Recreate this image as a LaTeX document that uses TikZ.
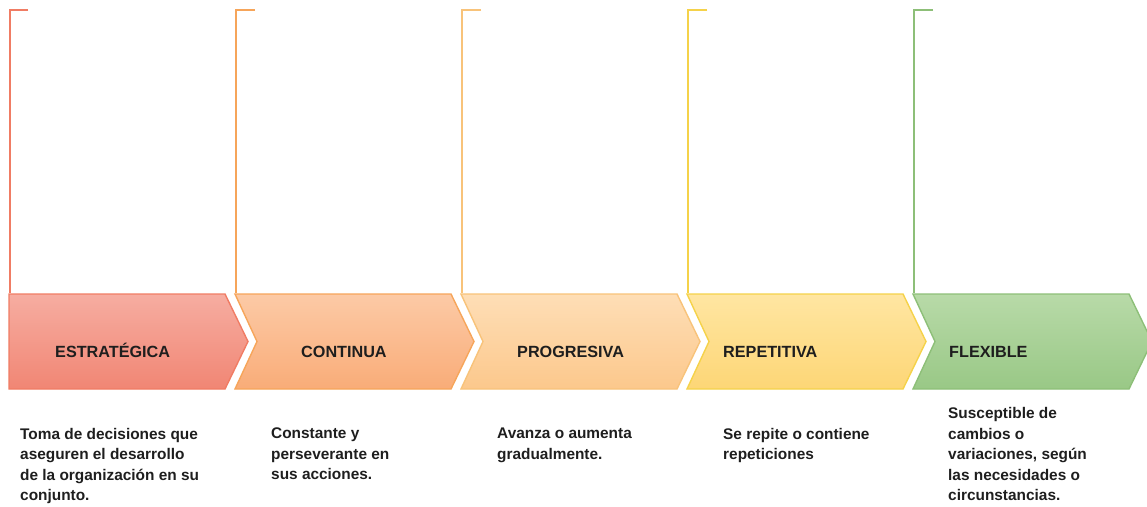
\documentclass[tikz,border=0pt]{standalone}
\usepackage{fontspec}
\setmainfont{Liberation Sans}
\definecolor{b1}{HTML}{F07C64}\definecolor{t1}{HTML}{F6ADA1}\definecolor{d1}{HTML}{F18674}
\definecolor{b2}{HTML}{F6A55A}\definecolor{t2}{HTML}{FCCAA6}\definecolor{d2}{HTML}{F9AC78}
\definecolor{b3}{HTML}{F8C37A}\definecolor{t3}{HTML}{FEDEB6}\definecolor{d3}{HTML}{FCC88C}
\definecolor{b4}{HTML}{F5D24A}\definecolor{t4}{HTML}{FFE6A2}\definecolor{d4}{HTML}{FDD676}
\definecolor{b5}{HTML}{8DBF78}\definecolor{t5}{HTML}{B8DAA8}\definecolor{d5}{HTML}{99C886}
\definecolor{txt}{HTML}{1E1E1E}
\begin{document}
\begin{tikzpicture}[x=1pt,y=-1pt,
  lbl/.style={anchor=base west, inner sep=0, font=\fontsize{16.2}{18}\selectfont\bfseries, text=txt},
  desc/.style={anchor=north west, inner sep=0, align=left, font=\fontsize{15.4}{20.5}\selectfont\bfseries, text=txt},
  brk/.style={line width=2pt},
  chev/.style={line width=1.4pt}]
\useasboundingbox (0,0) rectangle (1147,506);
\clip (0,0) rectangle (1147,506);
% chevrons
\path[chev, draw=b1, top color=t1, bottom color=d1] (9,294) -- (225,294) -- (248,341.5) -- (225,389) -- (9,389) -- cycle;
\path[chev, draw=b2, top color=t2, bottom color=d2] (235,294) -- (451,294) -- (474,341.5) -- (451,389) -- (235,389) -- (257,341.5) -- cycle;
\path[chev, draw=b3, top color=t3, bottom color=d3] (461,294) -- (677,294) -- (700,341.5) -- (677,389) -- (461,389) -- (483,341.5) -- cycle;
\path[chev, draw=b4, top color=t4, bottom color=d4] (687,294) -- (903,294) -- (926,341.5) -- (903,389) -- (687,389) -- (709,341.5) -- cycle;
\path[chev, draw=b5, top color=t5, bottom color=d5] (913,294) -- (1129,294) -- (1152,341.5) -- (1129,389) -- (913,389) -- (935,341.5) -- cycle;
% brackets
\coordinate (k1a) at (28,10);  \coordinate (k1b) at (10,10);  \coordinate (k1c) at (10,293.4);
\coordinate (k2a) at (255,10); \coordinate (k2b) at (236,10); \coordinate (k2c) at (236,293.4);
\coordinate (k3a) at (481,10); \coordinate (k3b) at (462,10); \coordinate (k3c) at (462,293.4);
\coordinate (k4a) at (707,10); \coordinate (k4b) at (688,10); \coordinate (k4c) at (688,293.4);
\coordinate (k5a) at (933,10); \coordinate (k5b) at (914,10); \coordinate (k5c) at (914,293.4);
\draw[brk, draw=b1] (k1a) -- (k1b) -- (k1c);
\draw[brk, draw=b2] (k2a) -- (k2b) -- (k2c);
\draw[brk, draw=b3] (k3a) -- (k3b) -- (k3c);
\draw[brk, draw=b4] (k4a) -- (k4b) -- (k4c);
\draw[brk, draw=b5] (k5a) -- (k5b) -- (k5c);
% labels
\node[lbl] (l1) at (55,357) {ESTRATÉGICA};
\node[lbl] (l2) at (301,357) {CONTINUA};
\node[lbl] (l3) at (517,357) {PROGRESIVA};
\node[lbl] (l4) at (723,357) {REPETITIVA};
\node[lbl] (l5) at (949,357) {FLEXIBLE};
% descriptions
\node[desc] (d1) at (20,428) {Toma de decisiones que\\aseguren el desarrollo\\de la organización en su\\conjunto.};
\node[desc] (d2) at (271,428) {Constante y\\perseverante en\\sus acciones.};
\node[desc] (d3) at (497,428) {Avanza o aumenta\\gradualmente.};
\node[desc] (d4) at (723,428) {Se repite o contiene\\repeticiones};
\node[desc] (d5) at (948,407.5) {Susceptible de\\cambios o\\variaciones, según\\las necesidades o\\circunstancias.};
\end{tikzpicture}
\end{document}
